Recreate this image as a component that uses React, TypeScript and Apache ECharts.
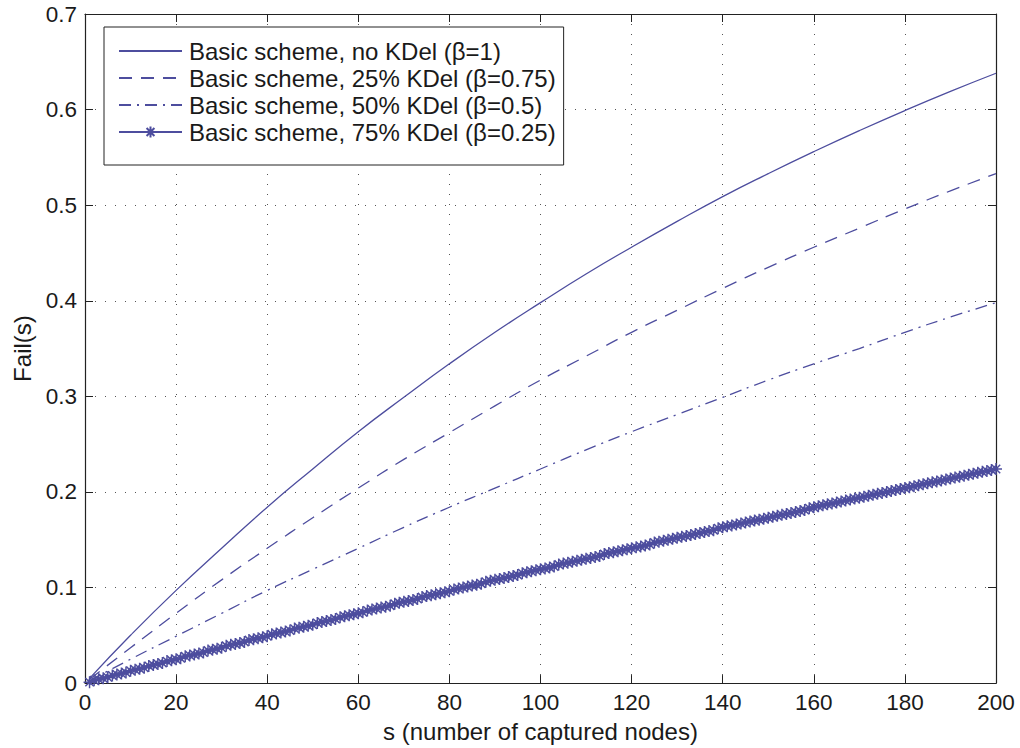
import React, { useEffect, useRef } from "react";
import * as echarts from "echarts";

const FONT = "'Liberation Sans', Arial, Helvetica, sans-serif";
const LINE_COLOR = "#4d4d9e";
const TEXT_COLOR = "#1a1a1a";

const seriesNames = [
  "Basic scheme, no KDel (β=1)",
  "Basic scheme, 25% KDel (β=0.75)",
  "Basic scheme, 50% KDel (β=0.5)",
  "Basic scheme, 75% KDel (β=0.25)",
];

// s values for the smooth curves
const sCoarse = [1, 10, 20, 30, 40, 50, 60, 70, 80, 90, 100, 110, 120, 130, 140, 150, 160, 170, 180, 190, 200];

const failBeta100 = [0.005, 0.05, 0.097, 0.141, 0.184, 0.224, 0.263, 0.299, 0.334, 0.367, 0.398, 0.428, 0.456, 0.483, 0.509, 0.533, 0.556, 0.578, 0.599, 0.619, 0.638];
const failBeta075 = [0.004, 0.037, 0.073, 0.108, 0.141, 0.173, 0.204, 0.234, 0.262, 0.29, 0.317, 0.342, 0.367, 0.39, 0.413, 0.435, 0.456, 0.476, 0.496, 0.515, 0.533];
const failBeta050 = [0.0025, 0.025, 0.049, 0.073, 0.097, 0.119, 0.141, 0.163, 0.184, 0.204, 0.224, 0.244, 0.263, 0.281, 0.299, 0.317, 0.334, 0.35, 0.367, 0.383, 0.398];

// beta = 0.25 curve, one value per captured node s = 1..200
const failBeta025 = [
  0.001, 0.003, 0.004, 0.005, 0.006, 0.008, 0.009, 0.010, 0.011, 0.013,
  0.014, 0.015, 0.016, 0.018, 0.019, 0.020, 0.021, 0.023, 0.024, 0.025,
  0.026, 0.028, 0.029, 0.030, 0.031, 0.032, 0.034, 0.035, 0.036, 0.037,
  0.039, 0.040, 0.041, 0.042, 0.043, 0.045, 0.046, 0.047, 0.048, 0.049,
  0.051, 0.052, 0.053, 0.054, 0.055, 0.057, 0.058, 0.059, 0.060, 0.061,
  0.063, 0.064, 0.065, 0.066, 0.067, 0.069, 0.070, 0.071, 0.072, 0.073,
  0.074, 0.076, 0.077, 0.078, 0.079, 0.080, 0.081, 0.083, 0.084, 0.085,
  0.086, 0.087, 0.088, 0.090, 0.091, 0.092, 0.093, 0.094, 0.095, 0.096,
  0.098, 0.099, 0.100, 0.101, 0.102, 0.103, 0.104, 0.106, 0.107, 0.108,
  0.109, 0.110, 0.111, 0.112, 0.113, 0.115, 0.116, 0.117, 0.118, 0.119,
  0.120, 0.121, 0.122, 0.124, 0.125, 0.126, 0.127, 0.128, 0.129, 0.130,
  0.131, 0.132, 0.133, 0.135, 0.136, 0.137, 0.138, 0.139, 0.140, 0.141,
  0.142, 0.143, 0.144, 0.145, 0.147, 0.148, 0.149, 0.150, 0.151, 0.152,
  0.153, 0.154, 0.155, 0.156, 0.157, 0.158, 0.159, 0.160, 0.162, 0.163,
  0.164, 0.165, 0.166, 0.167, 0.168, 0.169, 0.170, 0.171, 0.172, 0.173,
  0.174, 0.175, 0.176, 0.177, 0.178, 0.179, 0.180, 0.181, 0.183, 0.184,
  0.185, 0.186, 0.187, 0.188, 0.189, 0.190, 0.191, 0.192, 0.193, 0.194,
  0.195, 0.196, 0.197, 0.198, 0.199, 0.200, 0.201, 0.202, 0.203, 0.204,
  0.205, 0.206, 0.207, 0.208, 0.209, 0.210, 0.211, 0.212, 0.213, 0.214,
  0.215, 0.216, 0.217, 0.218, 0.219, 0.220, 0.221, 0.222, 0.223, 0.224,
];
const sFine = failBeta025.map((_, i) => i + 1);

const xAxisName = "s (number of captured nodes)";
const yAxisName = "Fail(s)";

const STAR = "path://M5,0L5,10M0,5L10,5M1.5,1.5L8.5,8.5M1.5,8.5L8.5,1.5";

export default function App() {
  const ref = useRef<HTMLDivElement>(null);

  useEffect(() => {
    if (!ref.current) return;
    const chart = echarts.init(ref.current, undefined, { renderer: "svg" });

    const pair = (xs: number[], ys: number[]) => xs.map((x, i) => [x, ys[i]]);

    const axisLine = { show: true, onZero: false, lineStyle: { color: "#222", width: 1.2 } };
    const axisTick = { show: true, inside: true, length: 8, lineStyle: { color: "#222", width: 1 } };
    const splitLine = { show: true, lineStyle: { color: "#555", width: 1, type: [1, 9] as any } };

    chart.setOption({
      animation: false,
      backgroundColor: "#ffffff",
      grid: { left: 85, right: 24, top: 14, bottom: 64, containLabel: false },
      xAxis: [
        {
          type: "value",
          min: 0,
          max: 200,
          interval: 20,
          position: "bottom",
          name: xAxisName,
          nameLocation: "middle",
          nameGap: 29,
          nameTextStyle: { fontFamily: FONT, fontSize: 24, color: TEXT_COLOR },
          axisLine,
          axisTick,
          splitLine,
          axisLabel: { fontFamily: FONT, fontSize: 22.5, color: TEXT_COLOR, margin: 8 },
        },
        {
          type: "value",
          min: 0,
          max: 200,
          interval: 20,
          position: "top",
          axisLine,
          axisTick,
          splitLine: { show: false },
          axisLabel: { show: false },
        },
      ],
      yAxis: [
        {
          type: "value",
          min: 0,
          max: 0.7,
          interval: 0.1,
          position: "left",
          name: yAxisName,
          nameLocation: "middle",
          nameGap: 50,
          nameTextStyle: { fontFamily: FONT, fontSize: 24, color: TEXT_COLOR },
          axisLine,
          axisTick,
          splitLine,
          axisLabel: {
            fontFamily: FONT,
            fontSize: 22.5,
            color: TEXT_COLOR,
            margin: 8,
            formatter: (v: number) => (v === 0 ? "0" : v.toFixed(1)),
          },
        },
        {
          type: "value",
          min: 0,
          max: 0.7,
          interval: 0.1,
          position: "right",
          axisLine,
          axisTick,
          splitLine: { show: false },
          axisLabel: { show: false },
        },
      ],
      legend: {
        orient: "vertical",
        left: 104,
        top: 27,
        padding: [12, 8, 21, 14],
        itemGap: 3,
        itemWidth: 63,
        itemHeight: 14,
        borderColor: "#222",
        borderWidth: 1,
        borderRadius: 0,
        backgroundColor: "#ffffff",
        selectedMode: false,
        textStyle: { fontFamily: FONT, fontSize: 24, color: TEXT_COLOR, padding: [0, 0, 0, 2] },
        data: [
          { name: seriesNames[0], itemStyle: { opacity: 0 } },
          { name: seriesNames[1], itemStyle: { opacity: 0 } },
          { name: seriesNames[2], itemStyle: { opacity: 0 } },
          { name: seriesNames[3] },
        ],
      },
      series: [
        {
          name: seriesNames[0],
          type: "line",
          smooth: true,
          symbol: "none",
          data: pair(sCoarse, failBeta100),
          lineStyle: { color: LINE_COLOR, width: 1.3, type: "solid" },
          itemStyle: { color: LINE_COLOR },
        },
        {
          name: seriesNames[1],
          type: "line",
          smooth: true,
          symbol: "none",
          data: pair(sCoarse, failBeta075),
          lineStyle: { color: LINE_COLOR, width: 1.3, type: [13, 9] },
          itemStyle: { color: LINE_COLOR },
        },
        {
          name: seriesNames[2],
          type: "line",
          smooth: true,
          symbol: "none",
          data: pair(sCoarse, failBeta050),
          lineStyle: { color: LINE_COLOR, width: 1.3, type: [12, 6, 2, 6] },
          itemStyle: { color: LINE_COLOR },
        },
        {
          name: seriesNames[3],
          type: "line",
          symbol: STAR,
          symbolSize: 12,
          showAllSymbol: true,
          data: pair(sFine, failBeta025),
          lineStyle: { color: LINE_COLOR, width: 1.3, type: "solid" },
          itemStyle: { color: LINE_COLOR, borderColor: LINE_COLOR, borderWidth: 1.5 },
        },
      ],
    });

    return () => chart.dispose();
  }, []);

  return (
    <div
      ref={ref}
      style={{ position: "absolute", left: 0, top: 0, width: 1020, height: 748, background: "#fff" }}
    />
  );
}
